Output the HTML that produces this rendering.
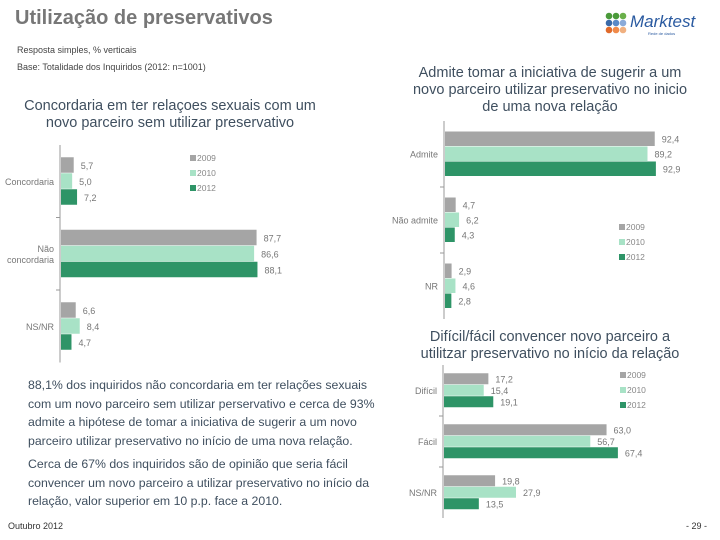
<!DOCTYPE html>
<html><head><meta charset="utf-8">
<style>
body{margin:0;background:#fff;font-family:"Liberation Sans",sans-serif;}
#page{position:relative;width:720px;height:540px;overflow:hidden;background:#fff;}
.abs{position:absolute;white-space:nowrap;}
.ct{color:#3f4f5f;font-size:14.5px;text-align:center;line-height:17px;}
.body{color:#3f4f5f;font-size:12.3px;line-height:18.5px;}
svg text{font-family:"Liberation Sans",sans-serif;}
</style></head><body>
<div id="page">
<div class="abs" style="left:15px;top:7px;font-size:20px;font-weight:bold;color:#777;">Utilização de preservativos</div>
<div class="abs" style="left:17px;top:45px;font-size:9px;color:#444;">Resposta simples, % verticais</div>
<div class="abs" style="left:17px;top:62px;font-size:9px;color:#444;">Base: Totalidade dos Inquiridos (2012: n=1001)</div>
<div class="abs ct" style="left:0;width:340px;top:98px;">Concordaria em ter relaçoes sexuais com um<br>novo parceiro sem utilizar preservativo</div>
<div class="abs ct" style="left:380px;width:340px;top:65px;">Admite tomar a iniciativa de sugerir a um<br>novo parceiro utilizar preservativo no inicio<br>de uma nova relação</div>
<div class="abs ct" style="left:380px;width:340px;top:329px;">Difícil/fácil convencer novo parceiro a<br>utilitzar preservativo no início da relação</div>
<div class="abs body" style="left:28px;top:376px;">88,1% dos inquiridos não concordaria em ter relações sexuais<br>com um novo parceiro sem utilizar perservativo e cerca de 93%<br>admite a hipótese de tomar a iniciativa de sugerir a um novo<br>parceiro utilizar preservativo no início de uma nova relação.<br><div style="height:5px"></div>Cerca de 67% dos inquiridos são de opinião que seria fácil<br>convencer um novo parceiro a utilizar preservativo no início da<br>relação, valor superior em 10 p.p. face a 2010.</div>
<div class="abs" style="left:8px;top:521px;font-size:9px;color:#333;">Outubro 2012</div>
<div class="abs" style="left:686px;top:521px;font-size:9px;color:#333;">- 29 -</div>
<div class="abs" style="left:605px;top:12px;width:110px;height:26px;">
<svg width="110" height="26">
<g><circle cx="4" cy="4" r="3.3" fill="#4a9a3a"/><circle cx="11" cy="4" r="3.3" fill="#4a9a3a"/><circle cx="18" cy="4" r="3.3" fill="#6ab04a"/>
<circle cx="4" cy="11" r="3.3" fill="#3a6aa8"/><circle cx="11" cy="11" r="3.3" fill="#5a8ac8"/><circle cx="18" cy="11" r="3.3" fill="#8aaad8"/>
<circle cx="4" cy="18" r="3.3" fill="#e06a2a"/><circle cx="11" cy="18" r="3.3" fill="#f08a4a"/><circle cx="18" cy="18" r="3.3" fill="#f0b080"/></g>
<text x="25" y="15" font-size="17" font-style="italic" fill="#2a5aa0">Marktest</text>
<text x="43" y="23" font-size="4" fill="#2a5aa0">Rede de dados</text>
</svg></div>
<svg id="charts" width="720" height="540" style="position:absolute;left:0;top:0"></svg>
</div>
<script>
const years = ["2009","2010","2012"];
const colors = ["#a5a5a5","#a8e2c6","#2e9467"];
const c1Categories = ["Concordaria","Não|concordaria","NS/NR"];
const c1v2009 = [5.7,87.7,6.6];
const c1v2010 = [5.0,86.6,8.4];
const c1v2012 = [7.2,88.1,4.7];
const c2Categories = ["Admite","Não admite","NR"];
const c2v2009 = [92.4,4.7,2.9];
const c2v2010 = [89.2,6.2,4.6];
const c2v2012 = [92.9,4.3,2.8];
const c3Categories = ["Difícil","Fácil","NS/NR"];
const c3v2009 = [17.2,63.0,19.8];
const c3v2010 = [15.4,56.7,27.9];
const c3v2012 = [19.1,67.4,13.5];
const fmt = v => v.toFixed(1).replace('.',',');
const svg = document.getElementById('charts');
const NS = 'http://www.w3.org/2000/svg';
function mk(tag, attrs, parent){const e=document.createElementNS(NS,tag);for(const k in attrs)e.setAttribute(k,attrs[k]);(parent||svg).appendChild(e);return e;}
function chart(cfg){
  const g = mk('g',{});
  
  
  const x = v => cfg.x0 + v*cfg.scale;
  const ax = mk('line',{x1:cfg.x0,x2:cfg.x0,y1:cfg.top,y2:cfg.top+cfg.groupH*cfg.cats.length,stroke:'#999','stroke-width':1},g);
  
  
  cfg.cats.forEach((c,i)=>{
    const gy = cfg.top + i*cfg.groupH;
    if(i>0){mk('line',{x1:cfg.x0-4,x2:cfg.x0,y1:gy,y2:gy,stroke:'#999'},g);}
    const startY = gy + (cfg.groupH - 3*cfg.barH)/2;
    cfg.series.forEach((s,j)=>{
      const y = startY + j*cfg.barH;
      const r = mk('rect',{x:cfg.x0+1,y:y,width:x(s[i])-cfg.x0,height:cfg.barH-0.5,fill:colors[j]},g);
      
      
      const t = mk('text',{x:x(s[i])+8,y:y+cfg.barH/2+3.5,'font-size':9,fill:'#777'},g);
      t.textContent = fmt(s[i]);
      
      
    });
    const parts = c.split('|');
    const cy = gy + cfg.groupH/2 - (parts.length-1)*5.5 + 3.5;
    parts.forEach((p,k)=>{
      const t = mk('text',{x:cfg.x0-6,y:cy+k*11,'font-size':9,fill:'#777','text-anchor':'end'},g);
      t.textContent = p;
      
      
    });
  });
  years.forEach((yr,j)=>{
    const ly = cfg.legY + j*15;
    const r = mk('rect',{x:cfg.legX,y:ly-6,width:6,height:6,fill:colors[j]},g);
    
    
    const t = mk('text',{x:cfg.legX+7,y:ly,'font-size':8.5,fill:'#888'},g);
    t.textContent = yr;
    
    
  });
}
chart({name:'chart-concordaria',cats:c1Categories,series:[c1v2009,c1v2010,c1v2012],x0:60,scale:2.23,top:145,groupH:72.5,barH:16,legX:190,legY:161});
chart({name:'chart-admite',cats:c2Categories,series:[c2v2009,c2v2010,c2v2012],x0:444,scale:2.27,top:121,groupH:66,barH:15,legX:619,legY:230});
chart({name:'chart-convencer',cats:c3Categories,series:[c3v2009,c3v2010,c3v2012],x0:443,scale:2.58,top:365,groupH:51,barH:11.5,legX:620,legY:378});
</script>
</body></html>
